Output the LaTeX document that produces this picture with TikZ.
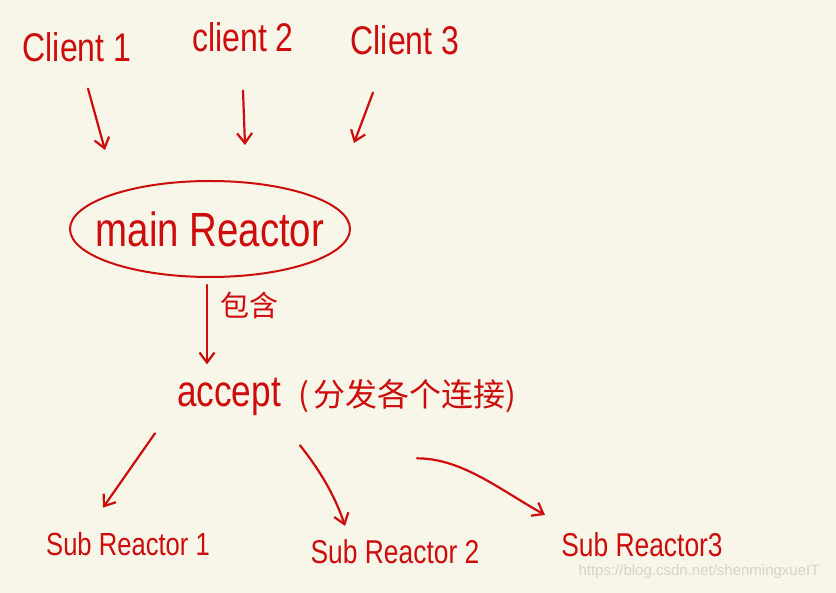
\documentclass[tikz,border=0pt]{standalone}
\usepackage{fontspec}
\setmainfont{Liberation Sans}
\newfontfamily\hand[FakeStretch=0.8]{Liberation Sans}
\newfontfamily\cjk{Noto Sans CJK SC}
\usetikzlibrary{shapes,arrows.meta,backgrounds,positioning,calc}
\definecolor{paper}{RGB}{248,245,233}
\definecolor{ink}{RGB}{205,12,12}
\definecolor{mark}{RGB}{214,212,204}

\begin{document}
\begin{tikzpicture}[x=1pt,y=-1pt,
  txt/.style={text=ink,inner sep=0pt,anchor=base},
  pen/.style={draw=ink,line width=2.2pt,line cap=round,line join=round,-{Straight Barb[length=10pt,width=15pt]}}]
\fill [paper] (0,0) rectangle (836,593);
\useasboundingbox (0,0) rectangle (836,593);
\node [txt,font=\hand\fontsize{40}{42}\selectfont] (c1) at (77,62) {Client 1};
\node [txt,font=\hand\fontsize{40}{42}\selectfont] (c2) at (243,52) {client 2};
\node [txt,font=\hand\fontsize{40}{42}\selectfont] (c3) at (405,55) {Client 3};
\node [ellipse,draw=ink,line width=2pt,minimum width=280,minimum height=96,inner sep=-18pt,text=ink,
  font=\hand\fontsize{48}{50}\selectfont] (mr) at (210,229) {main Reactor};
\node [txt,anchor=base west] (acc) at (177,407) {{\hand\fontsize{44}{46}\selectfont accept}\hspace{18pt}{\cjk\fontsize{32}{34}\selectfont (\hspace{4pt}分发各个连接)}};
\node [txt,font=\hand\fontsize{32}{34}\selectfont] (sr1) at (128,555) {Sub Reactor 1};
\node [txt,font=\hand\fontsize{33}{35}\selectfont] (sr2) at (395,563) {Sub Reactor 2};
\node [txt,font=\hand\fontsize{33}{35}\selectfont] (sr3) at (642,557) {Sub Reactor3};
\node [text=mark,font=\fontsize{15}{17}\selectfont] (wm) at (699,572) {https://blog.csdn.net/shenmingxueIT};
\draw [pen] ($(c1.south)+(11,26)$) -- ($(mr.north)+(-105,-30)$);
\draw [pen] ($(c2.south)+(0,38)$) -- ($(mr.north)+(35,-35)$);
\draw [pen] ($(c3.south)+(-32,37)$) -- ($(mr.north)+(144,-37)$);
\draw [pen] ($(mr.south)+(-3,7)$) -- node [pos=0.26,anchor=west,xshift=12pt,inner sep=0pt,text=ink,
  font=\cjk\fontsize{29}{31}\selectfont] (inc) {包含} ($(acc.north west)+(30,-14)$);
\draw [pen] ($(acc.south west)+(-22,17)$) -- ($(sr1.north)+(-25,-24)$);
\draw [pen] ($(acc.south west)+(123,29)$) .. controls +(20,25) and +(-10,-30) .. ($(sr2.north)+(-50,-13)$);
\draw [pen] ($(acc.south west)+(240,42)$) .. controls +(45,0) and +(-45,-25) .. ($(sr3.north)+(-97,-18)$);
\end{tikzpicture}
\end{document}
